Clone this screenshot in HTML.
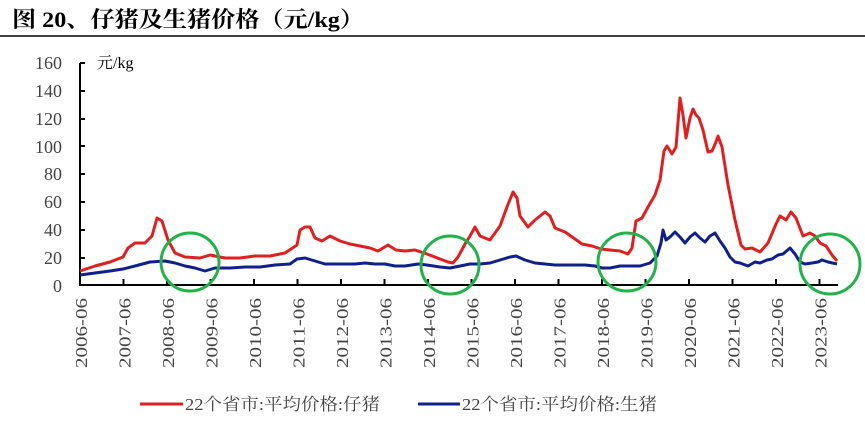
<!DOCTYPE html><html><head><meta charset="utf-8"><style>body{margin:0;background:#fff}svg{display:block}text{font-family:"Liberation Serif","Noto Serif CJK SC",serif}</style></head><body>
<svg width="865" height="421" viewBox="0 0 865 421">
<text x="12" y="27" font-size="22" font-weight="bold" textLength="352" lengthAdjust="spacingAndGlyphs">图 20、仔猪及生猪价格（元/kg）</text>
<line x1="0" y1="36" x2="865" y2="36" stroke="#000" stroke-width="1.5"/>
<g font-size="18" fill="#444" text-anchor="end">
<text x="62" y="69">160</text><text x="62" y="97">140</text><text x="62" y="125">120</text><text x="62" y="153">100</text><text x="62" y="180">80</text><text x="62" y="208">60</text><text x="62" y="236">40</text><text x="62" y="264">20</text><text x="62" y="292">0</text></g>
<text x="97" y="68" font-size="16">元/kg</text>
<g stroke="#000" stroke-width="2"><line x1="80" y1="63" x2="80" y2="286"/><line x1="79" y1="285" x2="838" y2="285"/>
<path d="M80 63h5M80 91h5M80 119h5M80 146h5M80 174h5M80 202h5M80 230h5M80 258h5"/>
<path d="M80 285v-6M123.5 285v-6M167 285v-6M210.5 285v-6M254 285v-6M297.5 285v-6M341 285v-6M384.5 285v-6M428 285v-6M471.5 285v-6M515 285v-6M558.5 285v-6M602 285v-6M645.5 285v-6M689 285v-6M732.5 285v-6M776 285v-6M819.5 285v-6"/></g>
<g font-size="17" fill="#444" text-anchor="end">
<text transform="translate(87,298) rotate(-90)" textLength="70" lengthAdjust="spacingAndGlyphs">2006-06</text><text transform="translate(130.5,298) rotate(-90)" textLength="70" lengthAdjust="spacingAndGlyphs">2007-06</text><text transform="translate(174,298) rotate(-90)" textLength="70" lengthAdjust="spacingAndGlyphs">2008-06</text><text transform="translate(217.5,298) rotate(-90)" textLength="70" lengthAdjust="spacingAndGlyphs">2009-06</text><text transform="translate(261,298) rotate(-90)" textLength="70" lengthAdjust="spacingAndGlyphs">2010-06</text><text transform="translate(304.5,298) rotate(-90)" textLength="70" lengthAdjust="spacingAndGlyphs">2011-06</text><text transform="translate(348,298) rotate(-90)" textLength="70" lengthAdjust="spacingAndGlyphs">2012-06</text><text transform="translate(391.5,298) rotate(-90)" textLength="70" lengthAdjust="spacingAndGlyphs">2013-06</text><text transform="translate(435,298) rotate(-90)" textLength="70" lengthAdjust="spacingAndGlyphs">2014-06</text><text transform="translate(478.5,298) rotate(-90)" textLength="70" lengthAdjust="spacingAndGlyphs">2015-06</text><text transform="translate(522,298) rotate(-90)" textLength="70" lengthAdjust="spacingAndGlyphs">2016-06</text><text transform="translate(565.5,298) rotate(-90)" textLength="70" lengthAdjust="spacingAndGlyphs">2017-06</text><text transform="translate(609,298) rotate(-90)" textLength="70" lengthAdjust="spacingAndGlyphs">2018-06</text><text transform="translate(652.5,298) rotate(-90)" textLength="70" lengthAdjust="spacingAndGlyphs">2019-06</text><text transform="translate(696,298) rotate(-90)" textLength="70" lengthAdjust="spacingAndGlyphs">2020-06</text><text transform="translate(739.5,298) rotate(-90)" textLength="70" lengthAdjust="spacingAndGlyphs">2021-06</text><text transform="translate(783,298) rotate(-90)" textLength="70" lengthAdjust="spacingAndGlyphs">2022-06</text><text transform="translate(826.5,298) rotate(-90)" textLength="70" lengthAdjust="spacingAndGlyphs">2023-06</text></g>
<polyline fill="none" stroke="#e02020" stroke-width="3" stroke-linejoin="round" points="80,271 95,266 110,262 123,257 128,248 135,243 145,243 152,236 157,218 162,221 168,240 175,253 185,257 200,258 210,255 225,258 240,258 255,256 270,256 285,253 297,245 300,230 305,227 310,227 315,238 322,241 330,236 340,241 350,244 360,246 370,248 378,251 388,245 396,250 405,251 415,250 427,254 440,259 448,262 453,263 458,257 465,244 470,236 475,227 480,236 490,240 500,226 507,207 513,192 517,198 520,216 528,227 535,220 545,212 550,216 555,228 565,232 575,239 582,244 592,246 601,249 610,250 620,251 628,254 632,248 636,221 642,218 648,207 655,195 660,180 664,151 667,146 672,154 676,147 680,98 683,115 686,138 690,118 693,109 696,115 699,118 703,130 708,152 712,151 716,142 718,136 722,147 728,185 735,220 741,245 745,249 752,248 760,252 768,243 776,224 780,216 786,220 791,212 796,218 803,236 810,233 815,236 820,243 826,246 832,255 837,261"/>
<polyline fill="none" stroke="#10208a" stroke-width="3" stroke-linejoin="round" points="80,275 95,273 110,271 123,269 135,266 150,262 165,261 175,263 185,266 195,268 205,271 215,268 230,268 245,267 260,267 275,265 290,264 297,259 305,258 315,261 325,264 340,264 355,264 365,263 375,264 385,264 395,266 405,266 418,264 427,265 440,267 450,268 460,266 470,264 480,264 490,263 500,260 510,257 516,256 525,260 535,263 545,264 555,265 565,265 575,265 585,265 595,266 602,268 610,268 620,266 630,266 640,266 650,263 657,256 661,243 663,230 666,240 670,237 675,232 680,237 685,243 690,237 695,233 700,238 705,242 710,236 715,233 720,241 725,248 730,257 735,262 740,263 748,266 755,262 760,263 767,260 772,259 778,255 783,254 790,248 795,254 800,262 805,264 812,263 818,262 822,260 828,262 837,264"/>
<g fill="none" stroke="#22b24a" stroke-width="3"><circle cx="190" cy="262" r="29"/><circle cx="450" cy="265" r="29"/><circle cx="627" cy="262" r="29"/><circle cx="830" cy="264" r="30"/></g>
<line x1="140" y1="404" x2="183" y2="404" stroke="#e02020" stroke-width="3"/>
<text x="185" y="410" font-size="17" fill="#444" textLength="195" lengthAdjust="spacingAndGlyphs">22个省市:平均价格:仔猪</text>
<line x1="418" y1="404" x2="460" y2="404" stroke="#10208a" stroke-width="3"/>
<text x="462" y="410" font-size="17" fill="#444" textLength="195" lengthAdjust="spacingAndGlyphs">22个省市:平均价格:生猪</text>
</svg></body></html>
